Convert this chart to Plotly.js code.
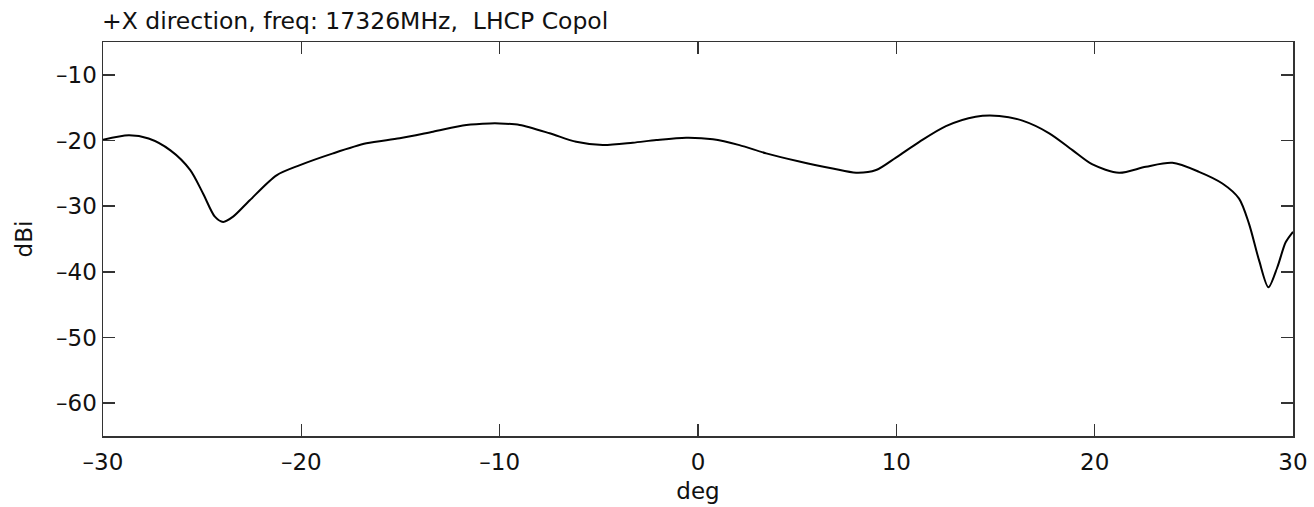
<!DOCTYPE html>
<html><head><meta charset="utf-8">
<script src="https://cdn.plot.ly/plotly-3.0.1.min.js"></script>
<style>body{margin:0;background:#fff}</style>
</head><body><div id="chart" style="width:1314px;height:507px"></div>
<script>
const angleDeg = [-30.0,-28.7,-27.7,-26.6,-25.6,-24.95,-24.36,-23.94,-23.44,-22.6,-21.25,-20.07,-18.4,-16.72,-15.04,-13.36,-11.68,-10.5,-10.0,-8.99,-7.48,-6.14,-4.8,-3.29,-2.1,-0.6,0.75,2.09,3.44,5.11,6.79,7.97,8.98,9.98,11.16,12.5,14.0,15.19,16.36,17.71,18.88,19.89,21.23,22.58,23.92,25.26,26.44,27.28,27.78,28.29,28.76,29.21,29.63,30.0];
const gainDbi = [-19.9,-19.2,-19.7,-21.5,-24.5,-28.1,-31.6,-32.4,-31.6,-29.1,-25.3,-23.75,-21.96,-20.43,-19.67,-18.66,-17.64,-17.4,-17.4,-17.64,-18.9,-20.2,-20.7,-20.34,-19.93,-19.57,-19.8,-20.7,-21.96,-23.2,-24.26,-24.9,-24.5,-22.6,-20.2,-17.8,-16.37,-16.26,-16.98,-18.9,-21.46,-23.65,-24.92,-24.0,-23.4,-24.77,-26.55,-28.85,-32.66,-38.26,-42.34,-39.3,-35.5,-33.9];
const xTicks = [-30,-20,-10,0,10,20,30];
const yTicks = [-60,-50,-40,-30,-20,-10];
const titleText = "+X direction, freq: 17326MHz,  LHCP Copol";

const font = {family: "DejaVu Sans, sans-serif", size: 23, color: "#111"};
const fmt = v => v < 0 ? "\u2013" + Math.abs(v) : String(v);
const axisCommon = {showline: true, linecolor: "#333", linewidth: 1.5, mirror: "ticks",
  ticks: "inside", ticklen: 12, tickwidth: 1.5, tickcolor: "#333", showgrid: false, zeroline: false,
  tickfont: font, automargin: false};

Plotly.newPlot("chart", [{
  x: angleDeg, y: gainDbi, type: "scatter", mode: "lines",
  line: {color: "#000", width: 2, shape: "spline", smoothing: 0.8}
}], {
  width: 1314, height: 507,
  margin: {l: 103, r: 21, t: 42, b: 71},
  paper_bgcolor: "#fff", plot_bgcolor: "#fff",
  font: font, showlegend: false,
  title: {text: titleText, font: Object.assign({}, font, {size: 23.5}), xref: "container", yref: "container", x: 102/1314, xanchor: "left", y: 1 - 21/507, yanchor: "middle"},
  xaxis: Object.assign({}, axisCommon, {range: [-30, 30], tickvals: xTicks, ticktext: xTicks.map(fmt), ticklabelstandoff: 5,
    title: {text: "deg", font: font, standoff: 9}}),
  yaxis: Object.assign({}, axisCommon, {range: [-65, -5], tickvals: yTicks, ticktext: yTicks.map(fmt),
    title: {text: "dBi", font: font, standoff: 17}})
}, {staticPlot: true});
</script></body></html>
